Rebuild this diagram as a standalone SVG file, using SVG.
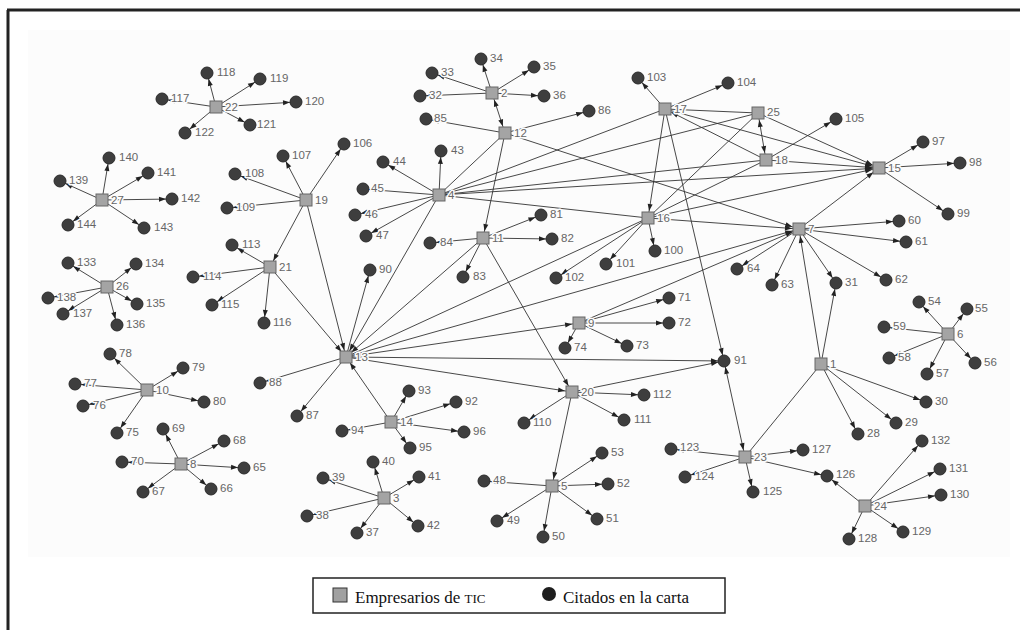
<svg xmlns="http://www.w3.org/2000/svg" width="1020" height="630" viewBox="0 0 1020 630">
<style>
.e line{stroke:#333;stroke-width:0.9;fill:none}
.a{marker-end:url(#ac)}
.s{marker-end:url(#as)}
.b{marker-end:url(#as);marker-start:url(#as)}
.bc{marker-end:url(#ac);marker-start:url(#as)}
.n rect{fill:#a4a4a4;stroke:#666;stroke-width:1}
.n circle{fill:#3e3e3e;stroke:#2a2a2a;stroke-width:1}
.n text{font-family:"Liberation Sans",Arial,sans-serif;font-size:11.5px;fill:#666;stroke:#fcfcfc;stroke-width:3;paint-order:stroke;stroke-linejoin:round}
.lg{font-family:"Liberation Serif","Times New Roman",serif;font-size:17px;fill:#111}
</style>
<defs>
<marker id="ac" markerUnits="userSpaceOnUse" markerWidth="20" markerHeight="10" refX="13" refY="2.5" orient="auto-start-reverse" overflow="visible"><path d="M0,0 L7,2.5 L0,5 z" fill="#222"/></marker>
<marker id="as" markerUnits="userSpaceOnUse" markerWidth="20" markerHeight="10" refX="14" refY="2.5" orient="auto-start-reverse" overflow="visible"><path d="M0,0 L7,2.5 L0,5 z" fill="#222"/></marker>
</defs>
<rect x="0" y="0" width="1020" height="630" fill="#fff"/>
<rect x="28" y="30" width="982" height="527" fill="#fcfcfc"/>
<line x1="7" y1="10" x2="1020" y2="10" stroke="#222" stroke-width="3"/>
<line x1="8" y1="10" x2="8" y2="630" stroke="#222" stroke-width="3"/>
<g class="e" id="edges">
<line class="a" x1="216" y1="107" x2="207" y2="73"/>
<line class="a" x1="216" y1="107" x2="260" y2="79"/>
<line class="a" x1="216" y1="107" x2="296" y2="102"/>
<line class="a" x1="216" y1="107" x2="250" y2="125"/>
<line class="a" x1="216" y1="107" x2="162" y2="99"/>
<line class="a" x1="216" y1="107" x2="185" y2="133"/>
<line class="a" x1="102" y1="200" x2="60" y2="181"/>
<line class="a" x1="102" y1="200" x2="109" y2="158"/>
<line class="a" x1="102" y1="200" x2="148" y2="173"/>
<line class="a" x1="102" y1="200" x2="172" y2="199"/>
<line class="a" x1="102" y1="200" x2="144" y2="228"/>
<line class="a" x1="102" y1="200" x2="68" y2="225"/>
<line class="a" x1="107" y1="287" x2="68" y2="263"/>
<line class="a" x1="107" y1="287" x2="136" y2="264"/>
<line class="a" x1="107" y1="287" x2="137" y2="304"/>
<line class="a" x1="107" y1="287" x2="117" y2="325"/>
<line class="a" x1="107" y1="287" x2="63" y2="314"/>
<line class="a" x1="107" y1="287" x2="48" y2="298"/>
<line class="a" x1="147" y1="390" x2="117" y2="433"/>
<line class="a" x1="147" y1="390" x2="83" y2="406"/>
<line class="a" x1="147" y1="390" x2="75" y2="384"/>
<line class="a" x1="147" y1="390" x2="110" y2="354"/>
<line class="a" x1="147" y1="390" x2="183" y2="368"/>
<line class="a" x1="147" y1="390" x2="204" y2="402"/>
<line class="a" x1="181" y1="464" x2="244" y2="468"/>
<line class="a" x1="181" y1="464" x2="211" y2="489"/>
<line class="a" x1="181" y1="464" x2="143" y2="492"/>
<line class="a" x1="181" y1="464" x2="224" y2="441"/>
<line class="a" x1="181" y1="464" x2="163" y2="429"/>
<line class="a" x1="181" y1="464" x2="122" y2="462"/>
<line class="a" x1="306" y1="200" x2="344" y2="144"/>
<line class="a" x1="306" y1="200" x2="283" y2="156"/>
<line class="a" x1="306" y1="200" x2="235" y2="174"/>
<line class="a" x1="306" y1="200" x2="227" y2="208"/>
<line class="s" x1="306" y1="200" x2="270" y2="267"/>
<line class="s" x1="306" y1="200" x2="346" y2="357"/>
<line class="a" x1="270" y1="267" x2="232" y2="245"/>
<line class="a" x1="270" y1="267" x2="193" y2="277"/>
<line class="a" x1="270" y1="267" x2="212" y2="305"/>
<line class="a" x1="270" y1="267" x2="264" y2="323"/>
<line class="s" x1="270" y1="267" x2="346" y2="357"/>
<line class="a" x1="492" y1="93" x2="420" y2="96"/>
<line class="a" x1="492" y1="93" x2="432" y2="73"/>
<line class="a" x1="492" y1="93" x2="481" y2="59"/>
<line class="a" x1="492" y1="93" x2="534" y2="67"/>
<line class="a" x1="492" y1="93" x2="544" y2="96"/>
<line class="b" x1="492" y1="93" x2="505" y2="133"/>
<line class="a" x1="505" y1="133" x2="426" y2="119"/>
<line class="a" x1="505" y1="133" x2="589" y2="111"/>
<line class="s" x1="505" y1="133" x2="483" y2="238"/>
<line class="s" x1="505" y1="133" x2="799" y2="229"/>
<line x1="505" y1="133" x2="439" y2="195"/>
<line class="a" x1="439" y1="195" x2="441" y2="151"/>
<line class="a" x1="439" y1="195" x2="383" y2="162"/>
<line class="a" x1="439" y1="195" x2="363" y2="189"/>
<line class="a" x1="439" y1="195" x2="355" y2="215"/>
<line class="a" x1="439" y1="195" x2="366" y2="236"/>
<line class="s" x1="439" y1="195" x2="346" y2="357"/>
<line x1="439" y1="195" x2="648" y2="218"/>
<line x1="439" y1="195" x2="665" y2="109"/>
<line x1="439" y1="195" x2="758" y2="113"/>
<line class="s" x1="439" y1="195" x2="879" y2="168"/>
<line x1="439" y1="195" x2="766" y2="160"/>
<line class="a" x1="483" y1="238" x2="541" y2="215"/>
<line class="a" x1="483" y1="238" x2="552" y2="239"/>
<line class="a" x1="483" y1="238" x2="463" y2="277"/>
<line class="a" x1="483" y1="238" x2="430" y2="243"/>
<line class="s" x1="483" y1="238" x2="572" y2="392"/>
<line class="s" x1="483" y1="238" x2="346" y2="357"/>
<line class="a" x1="346" y1="357" x2="297" y2="416"/>
<line class="a" x1="346" y1="357" x2="260" y2="383"/>
<line class="a" x1="346" y1="357" x2="370" y2="270"/>
<line x1="346" y1="357" x2="648" y2="218"/>
<line class="s" x1="346" y1="357" x2="799" y2="229"/>
<line class="s" x1="346" y1="357" x2="579" y2="323"/>
<line class="a" x1="346" y1="357" x2="724" y2="361"/>
<line class="s" x1="346" y1="357" x2="572" y2="392"/>
<line class="a" x1="391" y1="422" x2="456" y2="402"/>
<line class="a" x1="391" y1="422" x2="409" y2="391"/>
<line class="a" x1="391" y1="422" x2="342" y2="431"/>
<line class="a" x1="391" y1="422" x2="410" y2="448"/>
<line class="a" x1="391" y1="422" x2="464" y2="432"/>
<line class="s" x1="391" y1="422" x2="346" y2="357"/>
<line class="a" x1="384" y1="498" x2="357" y2="533"/>
<line class="a" x1="384" y1="498" x2="307" y2="516"/>
<line class="a" x1="384" y1="498" x2="323" y2="478"/>
<line class="a" x1="384" y1="498" x2="373" y2="462"/>
<line class="a" x1="384" y1="498" x2="419" y2="477"/>
<line class="a" x1="384" y1="498" x2="418" y2="526"/>
<line class="a" x1="552" y1="486" x2="484" y2="481"/>
<line class="a" x1="552" y1="486" x2="497" y2="521"/>
<line class="a" x1="552" y1="486" x2="543" y2="537"/>
<line class="a" x1="552" y1="486" x2="597" y2="519"/>
<line class="a" x1="552" y1="486" x2="608" y2="484"/>
<line class="a" x1="552" y1="486" x2="602" y2="453"/>
<line class="a" x1="572" y1="392" x2="524" y2="423"/>
<line class="a" x1="572" y1="392" x2="624" y2="420"/>
<line class="a" x1="572" y1="392" x2="644" y2="395"/>
<line class="a" x1="572" y1="392" x2="724" y2="361"/>
<line class="s" x1="572" y1="392" x2="552" y2="486"/>
<line class="a" x1="579" y1="323" x2="669" y2="298"/>
<line class="a" x1="579" y1="323" x2="669" y2="323"/>
<line class="a" x1="579" y1="323" x2="627" y2="346"/>
<line class="a" x1="579" y1="323" x2="565" y2="348"/>
<line class="s" x1="579" y1="323" x2="799" y2="229"/>
<line class="a" x1="648" y1="218" x2="655" y2="251"/>
<line class="a" x1="648" y1="218" x2="606" y2="264"/>
<line class="a" x1="648" y1="218" x2="556" y2="278"/>
<line class="s" x1="648" y1="218" x2="799" y2="229"/>
<line class="s" x1="648" y1="218" x2="879" y2="168"/>
<line x1="648" y1="218" x2="758" y2="113"/>
<line x1="648" y1="218" x2="766" y2="160"/>
<line class="a" x1="665" y1="109" x2="638" y2="78"/>
<line class="a" x1="665" y1="109" x2="728" y2="83"/>
<line class="s" x1="665" y1="109" x2="648" y2="218"/>
<line class="a" x1="665" y1="109" x2="724" y2="361"/>
<line x1="665" y1="109" x2="758" y2="113"/>
<line class="s" x1="665" y1="109" x2="879" y2="168"/>
<line class="a" x1="766" y1="160" x2="836" y2="119"/>
<line class="s" x1="766" y1="160" x2="665" y2="109"/>
<line class="s" x1="766" y1="160" x2="879" y2="168"/>
<line class="b" x1="766" y1="160" x2="758" y2="113"/>
<line class="s" x1="758" y1="113" x2="879" y2="168"/>
<line class="a" x1="879" y1="168" x2="923" y2="142"/>
<line class="a" x1="879" y1="168" x2="960" y2="163"/>
<line class="a" x1="879" y1="168" x2="948" y2="214"/>
<line class="s" x1="799" y1="229" x2="879" y2="168"/>
<line class="a" x1="799" y1="229" x2="836" y2="283"/>
<line class="a" x1="799" y1="229" x2="899" y2="221"/>
<line class="a" x1="799" y1="229" x2="906" y2="242"/>
<line class="a" x1="799" y1="229" x2="886" y2="280"/>
<line class="a" x1="799" y1="229" x2="772" y2="285"/>
<line class="a" x1="799" y1="229" x2="737" y2="269"/>
<line class="a" x1="821" y1="364" x2="858" y2="434"/>
<line class="a" x1="821" y1="364" x2="896" y2="423"/>
<line class="a" x1="821" y1="364" x2="926" y2="402"/>
<line class="a" x1="821" y1="364" x2="836" y2="283"/>
<line class="s" x1="821" y1="364" x2="799" y2="229"/>
<line x1="821" y1="364" x2="745" y2="457"/>
<line class="a" x1="745" y1="457" x2="671" y2="449"/>
<line class="a" x1="745" y1="457" x2="685" y2="477"/>
<line class="a" x1="745" y1="457" x2="753" y2="492"/>
<line class="a" x1="745" y1="457" x2="827" y2="476"/>
<line class="a" x1="745" y1="457" x2="803" y2="450"/>
<line class="bc" x1="745" y1="457" x2="724" y2="361"/>
<line class="a" x1="865" y1="506" x2="827" y2="476"/>
<line class="a" x1="865" y1="506" x2="849" y2="539"/>
<line class="a" x1="865" y1="506" x2="903" y2="532"/>
<line class="a" x1="865" y1="506" x2="941" y2="495"/>
<line class="a" x1="865" y1="506" x2="940" y2="469"/>
<line class="a" x1="865" y1="506" x2="922" y2="441"/>
<line class="a" x1="948" y1="334" x2="919" y2="302"/>
<line class="a" x1="948" y1="334" x2="967" y2="309"/>
<line class="a" x1="948" y1="334" x2="975" y2="363"/>
<line class="a" x1="948" y1="334" x2="927" y2="374"/>
<line class="a" x1="948" y1="334" x2="889" y2="358"/>
<line class="a" x1="948" y1="334" x2="884" y2="327"/>
</g>
<g class="n">
<g id="n1"><rect x="815" y="358" width="12" height="12"/><text x="830" y="368">1</text></g>
<g id="n2"><rect x="486" y="87" width="12" height="12"/><text x="501" y="97">2</text></g>
<g id="n3"><rect x="378" y="492" width="12" height="12"/><text x="393" y="502">3</text></g>
<g id="n4"><rect x="433" y="189" width="12" height="12"/><text x="448" y="199">4</text></g>
<g id="n5"><rect x="546" y="480" width="12" height="12"/><text x="561" y="490">5</text></g>
<g id="n6"><rect x="942" y="328" width="12" height="12"/><text x="957" y="338">6</text></g>
<g id="n7"><rect x="793" y="223" width="12" height="12"/><text x="808" y="233">7</text></g>
<g id="n8"><rect x="175" y="458" width="12" height="12"/><text x="190" y="468">8</text></g>
<g id="n9"><rect x="573" y="317" width="12" height="12"/><text x="588" y="327">9</text></g>
<g id="n10"><rect x="141" y="384" width="12" height="12"/><text x="156" y="394">10</text></g>
<g id="n11"><rect x="477" y="232" width="12" height="12"/><text x="492" y="242">11</text></g>
<g id="n12"><rect x="499" y="127" width="12" height="12"/><text x="514" y="137">12</text></g>
<g id="n13"><rect x="340" y="351" width="12" height="12"/><text x="355" y="361">13</text></g>
<g id="n14"><rect x="385" y="416" width="12" height="12"/><text x="400" y="426">14</text></g>
<g id="n15"><rect x="873" y="162" width="12" height="12"/><text x="888" y="172">15</text></g>
<g id="n16"><rect x="642" y="212" width="12" height="12"/><text x="657" y="222">16</text></g>
<g id="n17"><rect x="659" y="103" width="12" height="12"/><text x="674" y="113">17</text></g>
<g id="n18"><rect x="760" y="154" width="12" height="12"/><text x="775" y="164">18</text></g>
<g id="n19"><rect x="300" y="194" width="12" height="12"/><text x="315" y="204">19</text></g>
<g id="n20"><rect x="566" y="386" width="12" height="12"/><text x="581" y="396">20</text></g>
<g id="n21"><rect x="264" y="261" width="12" height="12"/><text x="279" y="271">21</text></g>
<g id="n22"><rect x="210" y="101" width="12" height="12"/><text x="225" y="111">22</text></g>
<g id="n23"><rect x="739" y="451" width="12" height="12"/><text x="754" y="461">23</text></g>
<g id="n24"><rect x="859" y="500" width="12" height="12"/><text x="874" y="510">24</text></g>
<g id="n25"><rect x="752" y="107" width="12" height="12"/><text x="767" y="116">25</text></g>
<g id="n26"><rect x="101" y="281" width="12" height="12"/><text x="116" y="290">26</text></g>
<g id="n27"><rect x="96" y="194" width="12" height="12"/><text x="111" y="204">27</text></g>
<g id="n28"><circle cx="858" cy="434" r="6"/><text x="867" y="437">28</text></g>
<g id="n29"><circle cx="896" cy="423" r="6"/><text x="905" y="426">29</text></g>
<g id="n30"><circle cx="926" cy="402" r="6"/><text x="935" y="405">30</text></g>
<g id="n31"><circle cx="836" cy="283" r="6"/><text x="845" y="286">31</text></g>
<g id="n32"><circle cx="420" cy="96" r="6"/><text x="429" y="99">32</text></g>
<g id="n33"><circle cx="432" cy="73" r="6"/><text x="441" y="76">33</text></g>
<g id="n34"><circle cx="481" cy="59" r="6"/><text x="490" y="62">34</text></g>
<g id="n35"><circle cx="534" cy="67" r="6"/><text x="543" y="70">35</text></g>
<g id="n36"><circle cx="544" cy="96" r="6"/><text x="553" y="99">36</text></g>
<g id="n37"><circle cx="357" cy="533" r="6"/><text x="366" y="536">37</text></g>
<g id="n38"><circle cx="307" cy="516" r="6"/><text x="316" y="519">38</text></g>
<g id="n39"><circle cx="323" cy="478" r="6"/><text x="332" y="481">39</text></g>
<g id="n40"><circle cx="373" cy="462" r="6"/><text x="382" y="465">40</text></g>
<g id="n41"><circle cx="419" cy="477" r="6"/><text x="428" y="480">41</text></g>
<g id="n42"><circle cx="418" cy="526" r="6"/><text x="427" y="529">42</text></g>
<g id="n43"><circle cx="441" cy="151" r="6"/><text x="451" y="154">43</text></g>
<g id="n44"><circle cx="383" cy="162" r="6"/><text x="393" y="165">44</text></g>
<g id="n45"><circle cx="363" cy="189" r="6"/><text x="371" y="192">45</text></g>
<g id="n46"><circle cx="355" cy="215" r="6"/><text x="365" y="218">46</text></g>
<g id="n47"><circle cx="366" cy="236" r="6"/><text x="376" y="239">47</text></g>
<g id="n48"><circle cx="484" cy="481" r="6"/><text x="493" y="484">48</text></g>
<g id="n49"><circle cx="497" cy="521" r="6"/><text x="507" y="524">49</text></g>
<g id="n50"><circle cx="543" cy="537" r="6"/><text x="552" y="540">50</text></g>
<g id="n51"><circle cx="597" cy="519" r="6"/><text x="606" y="522">51</text></g>
<g id="n52"><circle cx="608" cy="484" r="6"/><text x="617" y="487">52</text></g>
<g id="n53"><circle cx="602" cy="453" r="6"/><text x="611" y="456">53</text></g>
<g id="n54"><circle cx="919" cy="302" r="6"/><text x="928" y="305">54</text></g>
<g id="n55"><circle cx="967" cy="309" r="6"/><text x="975" y="312">55</text></g>
<g id="n56"><circle cx="975" cy="363" r="6"/><text x="984" y="366">56</text></g>
<g id="n57"><circle cx="927" cy="374" r="6"/><text x="936" y="377">57</text></g>
<g id="n58"><circle cx="889" cy="358" r="6"/><text x="898" y="361">58</text></g>
<g id="n59"><circle cx="884" cy="327" r="6"/><text x="893" y="330">59</text></g>
<g id="n60"><circle cx="899" cy="221" r="6"/><text x="908" y="224">60</text></g>
<g id="n61"><circle cx="906" cy="242" r="6"/><text x="915" y="245">61</text></g>
<g id="n62"><circle cx="886" cy="280" r="6"/><text x="895" y="283">62</text></g>
<g id="n63"><circle cx="772" cy="285" r="6"/><text x="781" y="288">63</text></g>
<g id="n64"><circle cx="737" cy="269" r="6"/><text x="747" y="272">64</text></g>
<g id="n65"><circle cx="244" cy="468" r="6"/><text x="253" y="471">65</text></g>
<g id="n66"><circle cx="211" cy="489" r="6"/><text x="220" y="492">66</text></g>
<g id="n67"><circle cx="143" cy="492" r="6"/><text x="152" y="495">67</text></g>
<g id="n68"><circle cx="224" cy="441" r="6"/><text x="233" y="444">68</text></g>
<g id="n69"><circle cx="163" cy="429" r="6"/><text x="172" y="432">69</text></g>
<g id="n70"><circle cx="122" cy="462" r="6"/><text x="131" y="465">70</text></g>
<g id="n71"><circle cx="669" cy="298" r="6"/><text x="678" y="301">71</text></g>
<g id="n72"><circle cx="669" cy="323" r="6"/><text x="678" y="326">72</text></g>
<g id="n73"><circle cx="627" cy="346" r="6"/><text x="636" y="349">73</text></g>
<g id="n74"><circle cx="565" cy="348" r="6"/><text x="574" y="351">74</text></g>
<g id="n75"><circle cx="117" cy="433" r="6"/><text x="126" y="436">75</text></g>
<g id="n76"><circle cx="83" cy="406" r="6"/><text x="93" y="409">76</text></g>
<g id="n77"><circle cx="75" cy="384" r="6"/><text x="84" y="387">77</text></g>
<g id="n78"><circle cx="110" cy="354" r="6"/><text x="119" y="357">78</text></g>
<g id="n79"><circle cx="183" cy="368" r="6"/><text x="192" y="371">79</text></g>
<g id="n80"><circle cx="204" cy="402" r="6"/><text x="213" y="405">80</text></g>
<g id="n81"><circle cx="541" cy="215" r="6"/><text x="550" y="218">81</text></g>
<g id="n82"><circle cx="552" cy="239" r="6"/><text x="561" y="242">82</text></g>
<g id="n83"><circle cx="463" cy="277" r="6"/><text x="473" y="280">83</text></g>
<g id="n84"><circle cx="430" cy="243" r="6"/><text x="440" y="246">84</text></g>
<g id="n85"><circle cx="426" cy="119" r="6"/><text x="434" y="122">85</text></g>
<g id="n86"><circle cx="589" cy="111" r="6"/><text x="598" y="114">86</text></g>
<g id="n87"><circle cx="297" cy="416" r="6"/><text x="306" y="419">87</text></g>
<g id="n88"><circle cx="260" cy="383" r="6"/><text x="269" y="386">88</text></g>
<g id="n90"><circle cx="370" cy="270" r="6"/><text x="379" y="273">90</text></g>
<g id="n91"><circle cx="724" cy="361" r="6"/><text x="734" y="364">91</text></g>
<g id="n92"><circle cx="456" cy="402" r="6"/><text x="465" y="405">92</text></g>
<g id="n93"><circle cx="409" cy="391" r="6"/><text x="418" y="394">93</text></g>
<g id="n94"><circle cx="342" cy="431" r="6"/><text x="351" y="434">94</text></g>
<g id="n95"><circle cx="410" cy="448" r="6"/><text x="419" y="451">95</text></g>
<g id="n96"><circle cx="464" cy="432" r="6"/><text x="473" y="435">96</text></g>
<g id="n97"><circle cx="923" cy="142" r="6"/><text x="932" y="145">97</text></g>
<g id="n98"><circle cx="960" cy="163" r="6"/><text x="969" y="166">98</text></g>
<g id="n99"><circle cx="948" cy="214" r="6"/><text x="957" y="217">99</text></g>
<g id="n100"><circle cx="655" cy="251" r="6"/><text x="664" y="254">100</text></g>
<g id="n101"><circle cx="606" cy="264" r="6"/><text x="616" y="267">101</text></g>
<g id="n102"><circle cx="556" cy="278" r="6"/><text x="565" y="281">102</text></g>
<g id="n103"><circle cx="638" cy="78" r="6"/><text x="647" y="81">103</text></g>
<g id="n104"><circle cx="728" cy="83" r="6"/><text x="737" y="86">104</text></g>
<g id="n105"><circle cx="836" cy="119" r="6"/><text x="845" y="122">105</text></g>
<g id="n106"><circle cx="344" cy="144" r="6"/><text x="353" y="147">106</text></g>
<g id="n107"><circle cx="283" cy="156" r="6"/><text x="292" y="159">107</text></g>
<g id="n108"><circle cx="235" cy="174" r="6"/><text x="245" y="177">108</text></g>
<g id="n109"><circle cx="227" cy="208" r="6"/><text x="236" y="211">109</text></g>
<g id="n110"><circle cx="524" cy="423" r="6"/><text x="533" y="426">110</text></g>
<g id="n111"><circle cx="624" cy="420" r="6"/><text x="634" y="423">111</text></g>
<g id="n112"><circle cx="644" cy="395" r="6"/><text x="653" y="398">112</text></g>
<g id="n113"><circle cx="232" cy="245" r="6"/><text x="242" y="248">113</text></g>
<g id="n114"><circle cx="193" cy="277" r="6"/><text x="203" y="280">114</text></g>
<g id="n115"><circle cx="212" cy="305" r="6"/><text x="221" y="308">115</text></g>
<g id="n116"><circle cx="264" cy="323" r="6"/><text x="273" y="326">116</text></g>
<g id="n117"><circle cx="162" cy="99" r="6"/><text x="171" y="102">117</text></g>
<g id="n118"><circle cx="207" cy="73" r="6"/><text x="217" y="76">118</text></g>
<g id="n119"><circle cx="260" cy="79" r="6"/><text x="270" y="82">119</text></g>
<g id="n120"><circle cx="296" cy="102" r="6"/><text x="305" y="105">120</text></g>
<g id="n121"><circle cx="250" cy="125" r="6"/><text x="257" y="128">121</text></g>
<g id="n122"><circle cx="185" cy="133" r="6"/><text x="195" y="136">122</text></g>
<g id="n123"><circle cx="671" cy="449" r="6"/><text x="680" y="451">123</text></g>
<g id="n124"><circle cx="685" cy="477" r="6"/><text x="695" y="480">124</text></g>
<g id="n125"><circle cx="753" cy="492" r="6"/><text x="763" y="495">125</text></g>
<g id="n126"><circle cx="827" cy="476" r="6"/><text x="836" y="478">126</text></g>
<g id="n127"><circle cx="803" cy="450" r="6"/><text x="812" y="453">127</text></g>
<g id="n128"><circle cx="849" cy="539" r="6"/><text x="858" y="542">128</text></g>
<g id="n129"><circle cx="903" cy="532" r="6"/><text x="912" y="535">129</text></g>
<g id="n130"><circle cx="941" cy="495" r="6"/><text x="950" y="498">130</text></g>
<g id="n131"><circle cx="940" cy="469" r="6"/><text x="949" y="472">131</text></g>
<g id="n132"><circle cx="922" cy="441" r="6"/><text x="931" y="444">132</text></g>
<g id="n133"><circle cx="68" cy="263" r="6"/><text x="77" y="266">133</text></g>
<g id="n134"><circle cx="136" cy="264" r="6"/><text x="145" y="267">134</text></g>
<g id="n135"><circle cx="137" cy="304" r="6"/><text x="146" y="307">135</text></g>
<g id="n136"><circle cx="117" cy="325" r="6"/><text x="126" y="328">136</text></g>
<g id="n137"><circle cx="63" cy="314" r="6"/><text x="73" y="317">137</text></g>
<g id="n138"><circle cx="48" cy="298" r="6"/><text x="57" y="301">138</text></g>
<g id="n139"><circle cx="60" cy="181" r="6"/><text x="69" y="184">139</text></g>
<g id="n140"><circle cx="109" cy="158" r="6"/><text x="119" y="161">140</text></g>
<g id="n141"><circle cx="148" cy="173" r="6"/><text x="157" y="176">141</text></g>
<g id="n142"><circle cx="172" cy="199" r="6"/><text x="181" y="202">142</text></g>
<g id="n143"><circle cx="144" cy="228" r="6"/><text x="154" y="231">143</text></g>
<g id="n144"><circle cx="68" cy="225" r="6"/><text x="77" y="228">144</text></g>
</g>
<g id="legend">
<rect x="313" y="578" width="412" height="35" fill="#fff" stroke="#222" stroke-width="1.5"/>
<rect x="333" y="588" width="14" height="14" fill="#a0a0a0" stroke="#333" stroke-width="1"/>
<text class="lg" x="355" y="603">Empresarios de <tspan font-size="13">TIC</tspan></text>
<circle cx="549" cy="594" r="7" fill="#1e1e1e"/>
<text class="lg" x="563" y="603">Citados en la carta</text>
</g>
</svg>
